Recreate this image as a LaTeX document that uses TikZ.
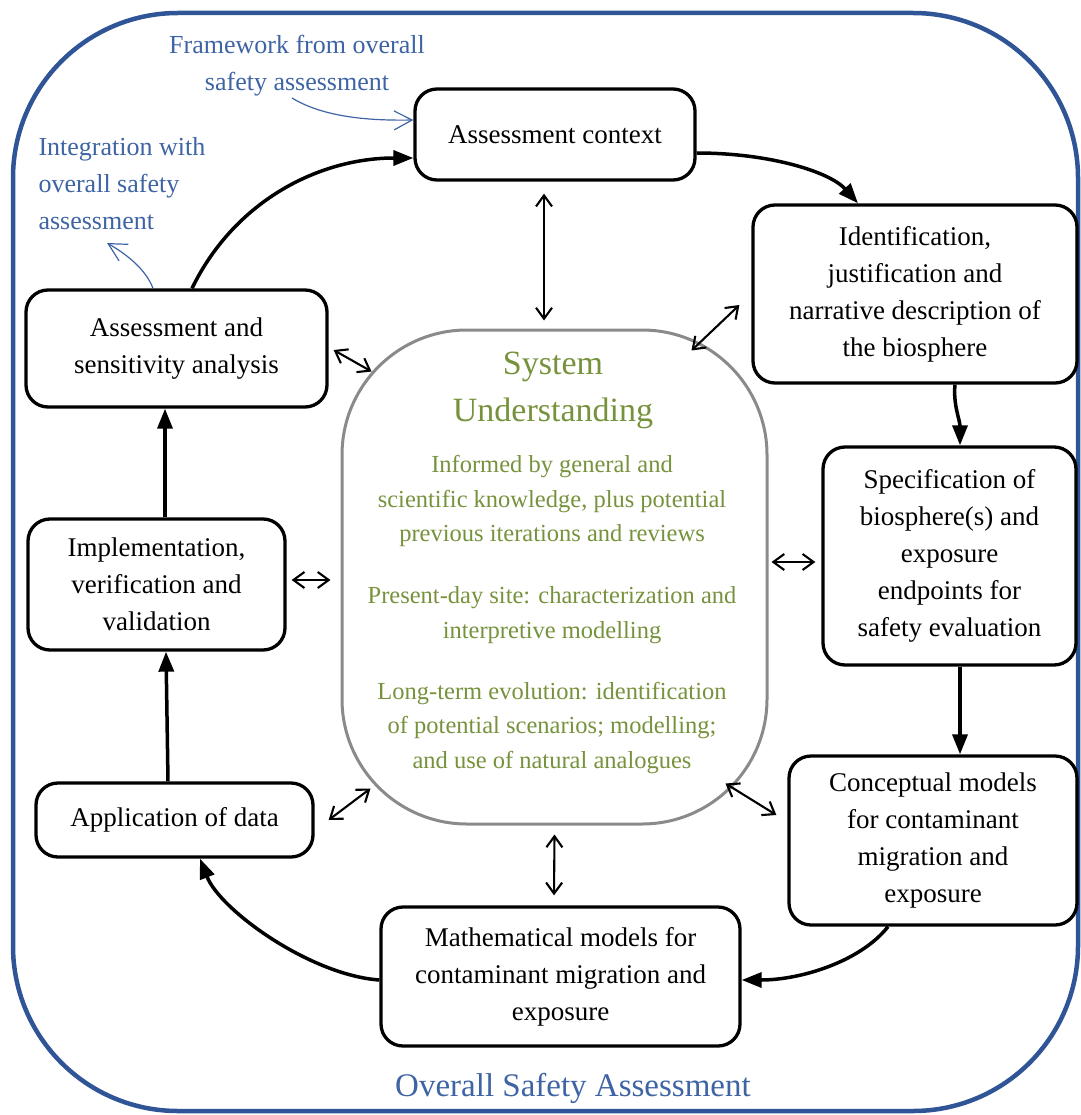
\documentclass[tikz,border=0pt]{standalone}
\usepackage{fontspec}
\setmainfont{Liberation Serif}
\usetikzlibrary{arrows.meta,calc}
\definecolor{frameblue}{HTML}{2F5597}
\definecolor{noteblue}{HTML}{3E64A4}
\definecolor{sysgreen}{HTML}{76923C}
\definecolor{sysgray}{HTML}{8A8A8A}

\begin{document}
\begin{tikzpicture}[x=1pt,y=-1pt,
  stagebox/.style={draw=black, line width=3.3pt, rounded corners=22pt, inner sep=0pt,
    align=center, font=\fontsize{27}{37}\selectfont},
  flow/.style={line width=3.5pt, -{Triangle[length=20pt,width=15pt]}},
  link/.style={line width=2.1pt,
    {Straight Barb[length=11pt,width=16pt]}-{Straight Barb[length=11pt,width=16pt]}},
  note/.style={text=noteblue, font=\fontsize{26}{37}\selectfont},
  feed/.style={draw=noteblue, line width=1.2pt, -{Straight Barb[length=18pt,width=19pt]}},
  systext/.style={text=sysgreen, align=center, font=\fontsize{24.5}{34.5}\selectfont}
]
\useasboundingbox (0,0) rectangle (1080,1115);

% overall safety assessment frame
\draw[frameblue, line width=4.5pt, rounded corners=165pt] (13,13) rectangle (1078,1111);

% central system understanding block
\node[draw=sysgray, line width=3pt, rounded corners=125pt, minimum width=425pt,
      minimum height=494pt, inner sep=0pt] (sys) at (554.5,577) {};
\node[text=sysgreen, align=center, font=\fontsize{34}{47}\selectfont] (systitle) at (553,390) {System\\Understanding};
\node[systext] (sysa) at (552,501) {Informed by general and\\scientific knowledge, plus potential\\previous iterations and reviews};
\node[systext] (sysb) at (552,615) {Present-day site: characterization and\\interpretive modelling};
\node[systext] (sysc) at (552,728) {Long-term evolution: identification\\of potential scenarios; modelling;\\and use of natural analogues};

% stages of the assessment cycle
\node[stagebox, minimum width=280pt, minimum height=91pt] (ctx) at (555,134.5) {Assessment context};
\node[stagebox, minimum width=324pt, minimum height=178pt] (ident) at (915,294) {Identification,\\justification and\\narrative description of\\the biosphere};
\node[stagebox, minimum width=253pt, minimum height=218pt] (spec) at (949.5,556) {Specification of\\biosphere(s) and\\exposure\\endpoints for\\safety evaluation};
\node[stagebox, minimum width=288pt, minimum height=169pt] (concept) at (933,840.5) {Conceptual models\\for contaminant\\migration and\\exposure};
\node[stagebox, minimum width=359pt, minimum height=139pt] (math) at (560.5,976.5) {Mathematical models for\\contaminant migration and\\exposure};
\node[stagebox, minimum width=277pt, minimum height=74pt] (app) at (174.5,820) {Application of data};
\node[stagebox, minimum width=257pt, minimum height=131pt] (impl) at (156.5,584.5) {Implementation,\\verification and\\validation};
\node[stagebox, minimum width=301pt, minimum height=117pt] (asa) at (176.5,348.5) {Assessment and\\sensitivity analysis};

% links to the wider safety assessment
\node[note, align=center] (fw) at (297,66) {Framework from overall\\safety assessment};
\node[note, align=left, anchor=west] (integ) at (35,184) {Integration with\\overall safety\\assessment};
\node[text=noteblue, font=\fontsize{33}{40}\selectfont] (osa) at (573,1088) {Overall Safety Assessment};
\coordinate (fwTail) at (292,98);
\coordinate (integTip) at (107,243);
\draw[feed] (fwTail) .. controls (320,115) and (360,121) .. ([yshift=14.5pt]ctx.west);
\draw[feed] ([xshift=-23.5pt]asa.north) .. controls (146,270) and (128,255) .. (integTip);

% main cycle
\draw[flow] ([xshift=15.5pt]asa.north) .. controls (235,200) and (320,158) .. ([yshift=-23.5pt]ctx.west);
\draw[flow] ([yshift=-18.5pt]ctx.east) .. controls (770,153) and (830,172) .. ([xshift=-57pt]ident.north);
\draw[flow] ([xshift=40pt]ident.south) .. controls (953,405) and (960,420) .. ([xshift=10.5pt]spec.north);
\draw[flow] ([xshift=10.5pt]spec.south) -- ([xshift=27pt]concept.north);
\draw[flow] ([xshift=-45pt]concept.south) .. controls (860,962) and (800,980) .. ([yshift=-3.5pt]math.east);
\draw[flow] ([yshift=-3.5pt]math.west) .. controls (310,975) and (220,910) .. ([xshift=25.5pt]app.south);
\draw[flow] ([xshift=-6.5pt]app.north) -- ([xshift=9.5pt]impl.south);
\draw[flow] ([xshift=8.5pt]impl.north) -- ([xshift=-11.5pt]asa.south);

% exchanges with system understanding
\draw[link] ([xshift=-11pt,yshift=-12pt]ctx.south) -- ([xshift=-10.5pt,yshift=8pt]sys.north);
\draw[link] ([xshift=-77pt,yshift=-22pt]sys.north east) -- ([xshift=-12pt,yshift=-11pt]ident.west);
\draw[link] ([xshift=5pt,yshift=-1.5pt]asa.east) -- ([xshift=31pt,yshift=-43pt]sys.north west);
\draw[link] ([xshift=5pt,yshift=4.5pt]impl.east) -- ([xshift=-10pt,yshift=-3pt]sys.west);
\draw[link] ([xshift=3pt,yshift=15pt]sys.east) -- ([xshift=-6pt,yshift=-6pt]spec.west);
\draw[link] ([xshift=14pt]app.east) -- ([xshift=30pt,yshift=37pt]sys.south west);
\draw[link] ([xshift=-43pt,yshift=42pt]sys.south east) -- ([xshift=-11pt,yshift=25.5pt]concept.west);
\draw[link] ([yshift=-9pt]sys.south) -- ([xshift=-6.5pt,yshift=10pt]math.north);
\end{tikzpicture}
\end{document}
